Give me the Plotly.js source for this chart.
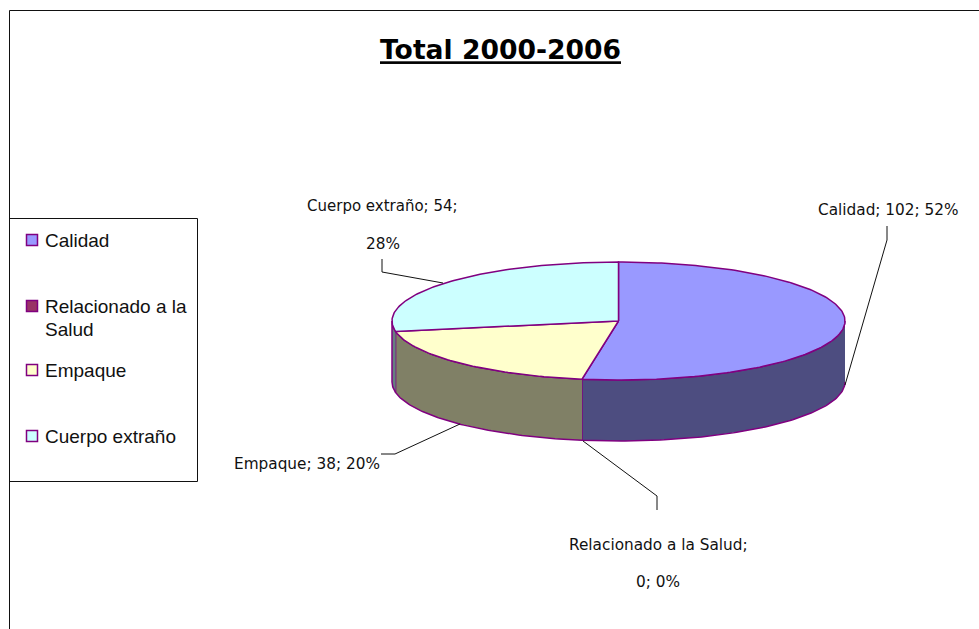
<!DOCTYPE html>
<html>
<head>
<meta charset="utf-8">
<script src="https://cdn.plot.ly/plotly-3.0.1.min.js"></script>
<style>html,body{margin:0;padding:0;background:#fff;overflow:hidden}</style>
</head>
<body>
<div id="chart" style="width:979px;height:629px"></div>
<script>
const categories = ["Calidad", "Relacionado a la Salud", "Empaque", "Cuerpo extraño"];
const values = [102, 0, 38, 54];
const percents = [52, 0, 20, 28];
const topColors = ["#9999FF", "#993366", "#FFFFCC", "#CCFFFF"];
const sideColors = ["#4D4D80", "#4D1A33", "#808066", "#668080"];
const legendLines = ["Calidad", "Relacionado a la", "Salud", "Empaque", "Cuerpo extraño"];

const W = 979, H = 629;
const cx = 618.5, cy = 321, rx = 226.5, ry = 59, depth = 61;
const edge = "#800080", LBL = "DejaVu Sans", LEG = "Liberation Sans";

const pt = (deg, dy) => [cx + rx * Math.sin(deg * Math.PI / 180), cy - ry * Math.cos(deg * Math.PI / 180) + (dy || 0)];
const arc = (a, b, dy) => {
  const out = [], n = Math.max(2, Math.ceil(Math.abs(b - a)));
  for (let i = 0; i <= n; i++) out.push(pt(a + (b - a) * i / n, dy));
  return out;
};
const poly = (pts, fill, name) => ({
  type: "scatter", mode: "lines", x: pts.map(p => p[0]), y: pts.map(p => p[1]),
  fill: "toself", fillcolor: fill, line: {color: edge, width: 1.5}, hoverinfo: "skip", name, showlegend: false
});

const total = values.reduce((a, b) => a + b, 0);
const sides = [], tops = [];
let ang = 0;
values.forEach((v, i) => {
  const end = ang + 360 * v / total;
  if (v > 0) {
    const a = Math.max(ang, 90), b = Math.min(end, 270);
    if (b > a) sides.push(poly(arc(a, b, 0).concat(arc(b, a, depth)), sideColors[i], categories[i] + " lado"));
    tops.push(poly([[cx, cy]].concat(arc(ang, end, 0)).concat([[cx, cy]]), topColors[i], categories[i]));
  }
  ang = end;
});

const leader = (xs, ys) => ({type: "scatter", mode: "lines", x: xs, y: ys, line: {color: "#111", width: 1}, hoverinfo: "skip", showlegend: false});
const leaders = [
  leader([845, 887, 887], [385, 240, 226]),
  leader([583, 657, 657], [441, 496, 510]),
  leader([460, 395, 381], [424, 454, 454]),
  leader([443, 382, 382], [283, 272, 259])
];

const legendY = [240, 306, 370, 436];
const legendTextY = [240, 306, 329, 370, 436];
const swatches = {
  type: "scatter", mode: "markers", x: [32, 32, 32, 32], y: legendY, hoverinfo: "skip", showlegend: false,
  marker: {symbol: "square", size: 11, color: topColors, line: {color: edge, width: 1.5}}
};

const lab = (text, x, y, fam, size, xanchor) => ({
  text, x, y, xref: "x", yref: "y", showarrow: false, xanchor: xanchor || "center", yanchor: "middle", align: "left",
  borderpad: 0, font: {family: fam, size, color: "#111"}
});
const t = i => categories[i] + "; " + values[i] + "; " + percents[i] + "%";
const annotations = [
  lab(t(0), 888, 210, LBL, 15.3),
  lab("Relacionado a la Salud;", 658, 545, LBL, 15.3),
  lab(values[1] + "; " + percents[1] + "%", 658, 582, LBL, 15.3),
  lab(t(2), 307, 464, LBL, 15.3),
  lab("Cuerpo extraño; " + values[3] + ";", 382, 206, LBL, 15),
  lab(percents[3] + "%", 383, 244, LBL, 15.3)
].concat(legendLines.map((s, i) => lab(s, 44, legendTextY[i], LEG, 19, "left")));

const border = (x0, y0, x1, y1) => ({type: "line", xref: "x", yref: "y", x0, y0, x1, y1, line: {color: "#111", width: 1}});
const layout = {
  width: W, height: H, margin: {l: 0, r: 0, t: 0, b: 0}, paper_bgcolor: "#fff", plot_bgcolor: "#fff",
  showlegend: false,
  xaxis: {visible: false, range: [0, W], fixedrange: true},
  yaxis: {visible: false, range: [H, 0], fixedrange: true},
  title: {text: "Total 2000-2006", x: 500.5 / W, xanchor: "center", y: 1 - 50 / H, yanchor: "middle",
    font: {family: "DejaVu Sans", size: 26.6, weight: 700, color: "#000", lineposition: "under"}},
  annotations,
  shapes: [
    border(9.5, 10.5, W, 10.5), border(9.5, 10.5, 9.5, H),
    border(9.5, 218.5, 197.5, 218.5), border(197.5, 218.5, 197.5, 481.5), border(9.5, 481.5, 197.5, 481.5)
  ]
};
Plotly.newPlot("chart", sides.concat(tops, leaders, [swatches]), layout, {displayModeBar: false, staticPlot: true});
</script>
</body>
</html>
